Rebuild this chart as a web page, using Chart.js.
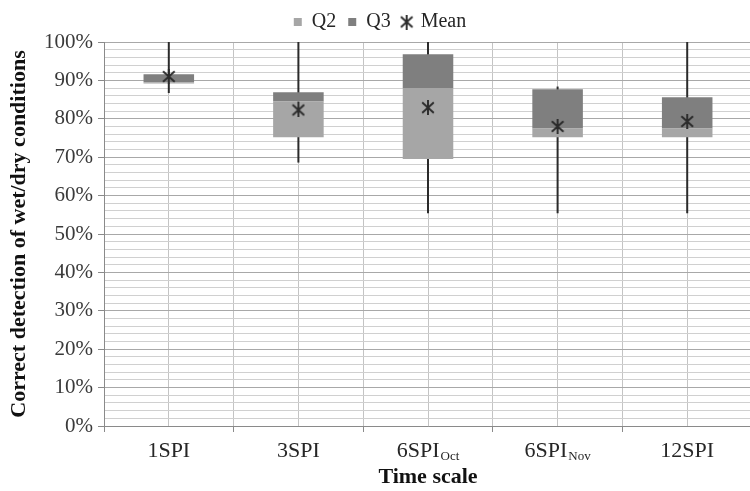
<!DOCTYPE html>
<html>
<head>
<meta charset="utf-8">
<script src="https://cdn.jsdelivr.net/npm/chart.js@4/dist/chart.umd.min.js"></script>
<style>
  html, body { margin: 0; padding: 0; background: #fff; overflow: hidden; }
  #wrap { width: 760px; height: 491px; }
</style>
</head>
<body>
<div id="wrap"><canvas id="c"></canvas></div>
<script>
// ---- data ----
const categories   = ['1SPI', '3SPI', '6SPI', '6SPI', '12SPI'];
const subscripts   = ['', '', 'Oct', 'Nov', ''];
const whiskerMin   = [86.7, 68.6, 55.4, 55.4, 55.4];
const whiskerMax   = [100, 100, 100, 88.4, 100];
const q1Values     = [89.2, 75.2, 69.5, 75.2, 75.2];
const medianValues = [89.5, 84.5, 88.0, 77.5, 77.5];
const q3Values     = [91.6, 86.9, 96.8, 87.7, 85.6];
const meanValues   = [91.0, 82.3, 82.9, 78.0, 79.3];
const yTickStep    = 2;
const yLabelStep   = 10;

// ---- helpers ----
const q2Ranges = categories.map((_, i) => [q1Values[i], medianValues[i]]);
const q3Ranges = categories.map((_, i) => [medianValues[i], q3Values[i]]);
const whiskerRanges = categories.map((_, i) => [whiskerMin[i], whiskerMax[i]]);
const axisLabels = categories.map((c, i) => c + subscripts[i]);

function makeStar(w, h, lw) {
  const cv = document.createElement('canvas');
  cv.width = w; cv.height = h;
  const g = cv.getContext('2d');
  g.strokeStyle = '#2b2b2b';
  g.lineWidth = lw;
  const m = 1.2, c = w / 2;
  g.beginPath();
  g.moveTo(m, m + 1); g.lineTo(w - m, h - m - 1);
  g.moveTo(w - m, m + 1); g.lineTo(m, h - m - 1);
  g.moveTo(c, 0); g.lineTo(c, h);
  g.stroke();
  return cv;
}
const starImg = makeStar(14, 15, 1.9);

Chart.defaults.font.family = "'Liberation Serif', 'Times New Roman', serif";
Chart.defaults.color = '#262626';

const subLabelPlugin = {
  id: 'subLabels',
  afterDraw(chart) {
    const xs = chart.scales.x;
    const ctx = chart.ctx;
    ctx.save();
    ctx.fillStyle = '#262626';
    ctx.textBaseline = 'alphabetic';
    const baseY = xs.top + 31;
    categories.forEach((main, i) => {
      const x = xs.getPixelForValue(i);
      ctx.font = "22px 'Liberation Serif'";
      const wm = ctx.measureText(main).width;
      ctx.font = "13px 'Liberation Serif'";
      const sub = subscripts[i];
      const ws = sub ? ctx.measureText(sub).width + 1 : 0;
      const start = x - (wm + ws) / 2;
      ctx.font = "22px 'Liberation Serif'";
      ctx.fillText(main, start, baseY);
      if (sub) {
        ctx.font = "13px 'Liberation Serif'";
        ctx.fillText(sub, start + wm + 1, baseY + 3);
      }
    });
    ctx.restore();
  }
};

new Chart(document.getElementById('c'), {
  type: 'bar',
  data: {
    labels: axisLabels,
    datasets: [
      {
        label: 'whisker',
        data: whiskerRanges,
        backgroundColor: '#2b2b2b',
        grouped: false,
        categoryPercentage: 1,
        barPercentage: 0.1,
        maxBarThickness: 2,
        order: 3,
        pointStyle: 'rect'
      },
      {
        label: 'Q2',
        data: q2Ranges,
        backgroundColor: '#a6a6a6',
        grouped: false,
        categoryPercentage: 1,
        barPercentage: 0.39,
        order: 2,
        pointStyle: 'rect'
      },
      {
        label: 'Q3',
        data: q3Ranges,
        backgroundColor: '#7f7f7f',
        grouped: false,
        categoryPercentage: 1,
        barPercentage: 0.39,
        order: 2,
        pointStyle: 'rect'
      },
      {
        type: 'line',
        label: 'Mean',
        data: meanValues,
        showLine: false,
        pointStyle: starImg,
        pointRadius: 7,
        pointHoverRadius: 7,
        borderColor: '#2b2b2b',
        backgroundColor: '#2b2b2b',
        order: 0
      }
    ]
  },
  options: {
    responsive: true,
    maintainAspectRatio: false,
    animation: false,
    events: [],
    layout: { padding: { left: 0, right: 0, top: 0, bottom: 0 } },
    plugins: {
      tooltip: { enabled: false },
      legend: {
        display: true,
        position: 'top',
        labels: {
          filter: (item) => item.text !== 'whisker',
          sort: (a, b) => a.datasetIndex - b.datasetIndex,
          usePointStyle: true,
          boxWidth: 8,
          boxHeight: 8,
          padding: 12,
          color: '#262626',
          font: { size: 20 }
        }
      }
    },
    scales: {
      x: {
        type: 'category',
        offset: true,
        grid: {
          offset: true,
          color: '#c4c4c4',
          lineWidth: 1,
          drawTicks: true,
          tickLength: 6,
          tickColor: '#8a8a8a'
        },
        border: { display: true, color: '#8a8a8a', width: 1 },
        ticks: { display: false },
        title: {
          display: true,
          text: 'Time scale',
          color: '#111',
          font: { size: 22, weight: 'bold' },
          padding: { top: 0, bottom: 0 }
        },
        afterFit: (s) => { s.height = 65; }
      },
      x2: {
        type: 'category',
        position: 'bottom',
        labels: axisLabels,
        offset: true,
        grid: {
          offset: false,
          color: '#c4c4c4',
          lineWidth: 1,
          drawTicks: false
        },
        border: { display: false },
        ticks: { display: false },
        afterFit: (s) => { s.height = 0; }
      },
      y: {
        min: 0,
        max: 100,
        ticks: {
          stepSize: yTickStep,
          autoSkip: false,
          padding: 5,
          color: '#3a3a3a',
          font: { size: 21 },
          callback: (v) => (v % yLabelStep === 0 ? v + '%' : '')
        },
        grid: {
          color: (ctx) => (ctx.tick && ctx.tick.value % yLabelStep === 0 ? '#a8a8a8' : '#d0d0d0'),
          lineWidth: 1,
          tickLength: 6,
          tickColor: (ctx) => (ctx.tick && ctx.tick.value % yLabelStep === 0 ? '#8a8a8a' : 'rgba(0,0,0,0)')
        },
        border: { display: true, color: '#8a8a8a', width: 1 },
        title: {
          display: true,
          text: 'Correct detection of wet/dry conditions',
          color: '#111',
          font: { size: 22, weight: 'bold' },
          padding: { top: 6, bottom: 0 }
        },
        afterFit: (s) => { s.width = 104; }
      }
    }
  },
  plugins: [subLabelPlugin]
});
</script>
</body>
</html>
